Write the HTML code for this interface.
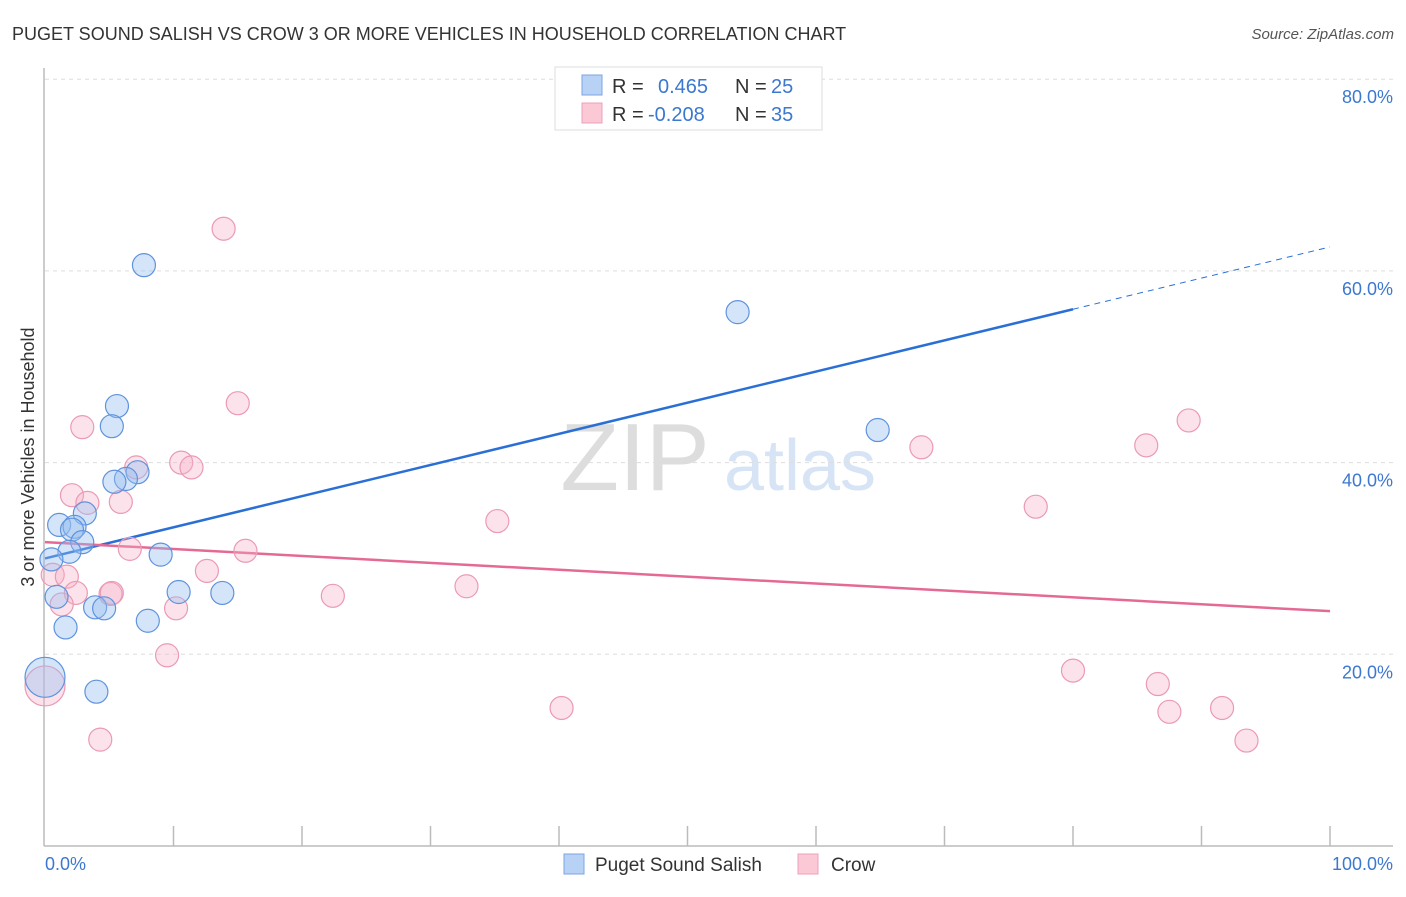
<!DOCTYPE html>
<html><head><meta charset="utf-8"><style>
body{margin:0;background:#fff;font-family:"Liberation Sans",sans-serif;}
svg text{font-family:"Liberation Sans",sans-serif;}
</style></head><body>
<svg id="chart" width="1406" height="892" viewBox="0 0 1406 892" xmlns="http://www.w3.org/2000/svg">
<text x="12" y="40" font-size="18" fill="#333">PUGET SOUND SALISH VS CROW 3 OR MORE VEHICLES IN HOUSEHOLD CORRELATION CHART</text>
<text x="1394" y="39" font-size="15" fill="#555" text-anchor="end" font-style="italic">Source: ZipAtlas.com</text>
<g>
<text x="635" y="490" font-size="96" fill="#ddd" text-anchor="middle" font-family="Liberation Serif">ZIP</text>
<text x="800" y="490" font-size="72" fill="#d6e4f5" text-anchor="middle">atlas</text>
</g>
<g id="grid"></g>
<g id="axes"></g>
<g id="lines"></g>
<g id="points"></g>
<text transform="translate(34,457) rotate(-90)" font-size="18" fill="#333" text-anchor="middle">3 or more Vehicles in Household</text>
<text x="45" y="870" font-size="18" fill="#3b78d0">0.0%</text>
<text x="1393" y="870" font-size="18" fill="#3b78d0" text-anchor="end">100.0%</text>
<g>
<rect x="555" y="67" width="267" height="63" fill="#fff" stroke="#ddd"/>
<rect x="582" y="75" width="20" height="20" fill="#b8d2f5" stroke="#7ba6e3"/>
<rect x="582" y="103" width="20" height="20" fill="#fbc8d6" stroke="#eda0b8"/>
<text x="612" y="93" font-size="20" fill="#333">R = </text><text x="658" y="93" font-size="20" fill="#3b78d0">0.465</text>
<text x="735" y="93" font-size="20" fill="#333">N = </text><text x="771" y="93" font-size="20" fill="#3b78d0">25</text>
<text x="612" y="121" font-size="20" fill="#333">R = </text><text x="648" y="121" font-size="20" fill="#3b78d0">-0.208</text>
<text x="735" y="121" font-size="20" fill="#333">N = </text><text x="771" y="121" font-size="20" fill="#3b78d0">35</text>
</g>
<g>
<rect x="564" y="854" width="20" height="20" fill="#b8d2f5" stroke="#7ba6e3"/>
<text x="595" y="871" font-size="19" fill="#333">Puget Sound Salish</text>
<rect x="798" y="854" width="20" height="20" fill="#fbc8d6" stroke="#eda0b8"/>
<text x="831" y="871" font-size="19" fill="#333">Crow</text>
</g>
</svg>
<script>
const yTicks=[20,40,60,80];
const yTickLabels=["20.0%","40.0%","60.0%","80.0%"];
const blueX=[7.7,53.9,5.6,5.2,64.8,7.2,6.3,5.4,3.1,1.1,2.3,2.1,2.9,1.9,0.5,9.0,0.9,10.4,13.8,3.9,4.6,8.0,1.6,4.0,0];
const blueY=[60.6,55.7,45.9,43.8,43.4,39.0,38.3,38.0,34.7,33.5,33.3,33.0,31.7,30.7,29.9,30.4,26.0,26.5,26.4,24.9,24.8,23.5,22.8,16.1,17.6];
const blueBig=[0,0,0,0,0,0,0,0,0,0,0,0,0,0,0,0,0,0,0,0,0,0,0,0,1];
const pinkX=[13.9,15.0,2.9,89.0,85.7,68.2,7.1,10.6,11.4,2.1,3.3,5.9,77.1,35.2,6.6,15.6,0.6,1.7,12.6,32.8,2.4,5.1,5.2,22.4,1.3,10.2,9.5,80.0,86.6,40.2,91.6,87.5,4.3,93.5,0];
const pinkY=[64.4,46.2,43.7,44.4,41.8,41.6,39.5,40.0,39.5,36.6,35.8,35.9,35.4,33.9,31.0,30.8,28.3,28.1,28.7,27.1,26.4,26.3,26.4,26.1,25.2,24.8,19.9,18.3,16.9,14.4,14.4,14.0,11.1,11.0,16.7];
const pinkBig=[0,0,0,0,0,0,0,0,0,0,0,0,0,0,0,0,0,0,0,0,0,0,0,0,0,0,0,0,0,0,0,0,0,0,1];
const blueTrend=[30.0,0.325]; // intercept, slope
const blueSolidEnd=80;
const pinkTrend=[31.7,-0.072];
const NS="http://www.w3.org/2000/svg";
const xs=v=>45+v*12.85;
const ys=v=>846-v*9.585;
function mk(tag,attrs,parent){const e=document.createElementNS(NS,tag);for(const k in attrs)e.setAttribute(k,attrs[k]);parent.appendChild(e);return e;}
const grid=document.getElementById('grid'),axes=document.getElementById('axes'),lines=document.getElementById('lines'),pts=document.getElementById('points');
yTicks.forEach((t,i)=>{
 const l=mk('line',{x1:45,x2:1393,y1:ys(t),y2:ys(t),stroke:'#ddd','stroke-dasharray':'4,4'},grid);
 
 
 const tx=mk('text',{x:1393,y:ys(t)+24,'font-size':18,fill:'#3b78d0','text-anchor':'end'},grid);
 tx.textContent=yTickLabels[i];
 
 
});
const ya=mk('line',{x1:44,x2:44,y1:68,y2:846,stroke:'#bbb','stroke-width':1.5},axes);


const xa=mk('line',{x1:44,x2:1393,y1:846,y2:846,stroke:'#bbb','stroke-width':1.5},axes);


for(let i=1;i<=10;i++){
 const t=mk('line',{x1:xs(i*10),x2:xs(i*10),y1:826,y2:846,stroke:'#bbb','stroke-width':1.5},axes);
 
 
}
function drawPts(X,Y,B,fill,stroke,name){
 X.forEach((x,i)=>{
  const c=mk('circle',{cx:xs(x),cy:ys(Y[i]),r:B[i]?20:11.5,fill:fill,stroke:stroke,'stroke-width':1.2},pts);
  
  
 });
}
drawPts(pinkX,pinkY,pinkBig,'rgba(246,176,198,0.35)','#eb9ab3','crow-point');
drawPts(blueX,blueY,blueBig,'rgba(150,190,240,0.4)','#5f93dd','puget-point');
const b1=mk('line',{x1:xs(0),y1:ys(blueTrend[0]),x2:xs(blueSolidEnd),y2:ys(blueTrend[0]+blueTrend[1]*blueSolidEnd),stroke:'#2a6fd6','stroke-width':2.5},lines);


const b2=mk('line',{x1:xs(blueSolidEnd),y1:ys(blueTrend[0]+blueTrend[1]*blueSolidEnd),x2:xs(100),y2:ys(blueTrend[0]+blueTrend[1]*100),stroke:'#2a6fd6','stroke-width':1,'stroke-dasharray':'6,5'},lines);


const p1=mk('line',{x1:xs(0),y1:ys(pinkTrend[0]),x2:xs(100),y2:ys(pinkTrend[0]+pinkTrend[1]*100),stroke:'#e46a95','stroke-width':2.5},lines);


</script>
</body></html>
